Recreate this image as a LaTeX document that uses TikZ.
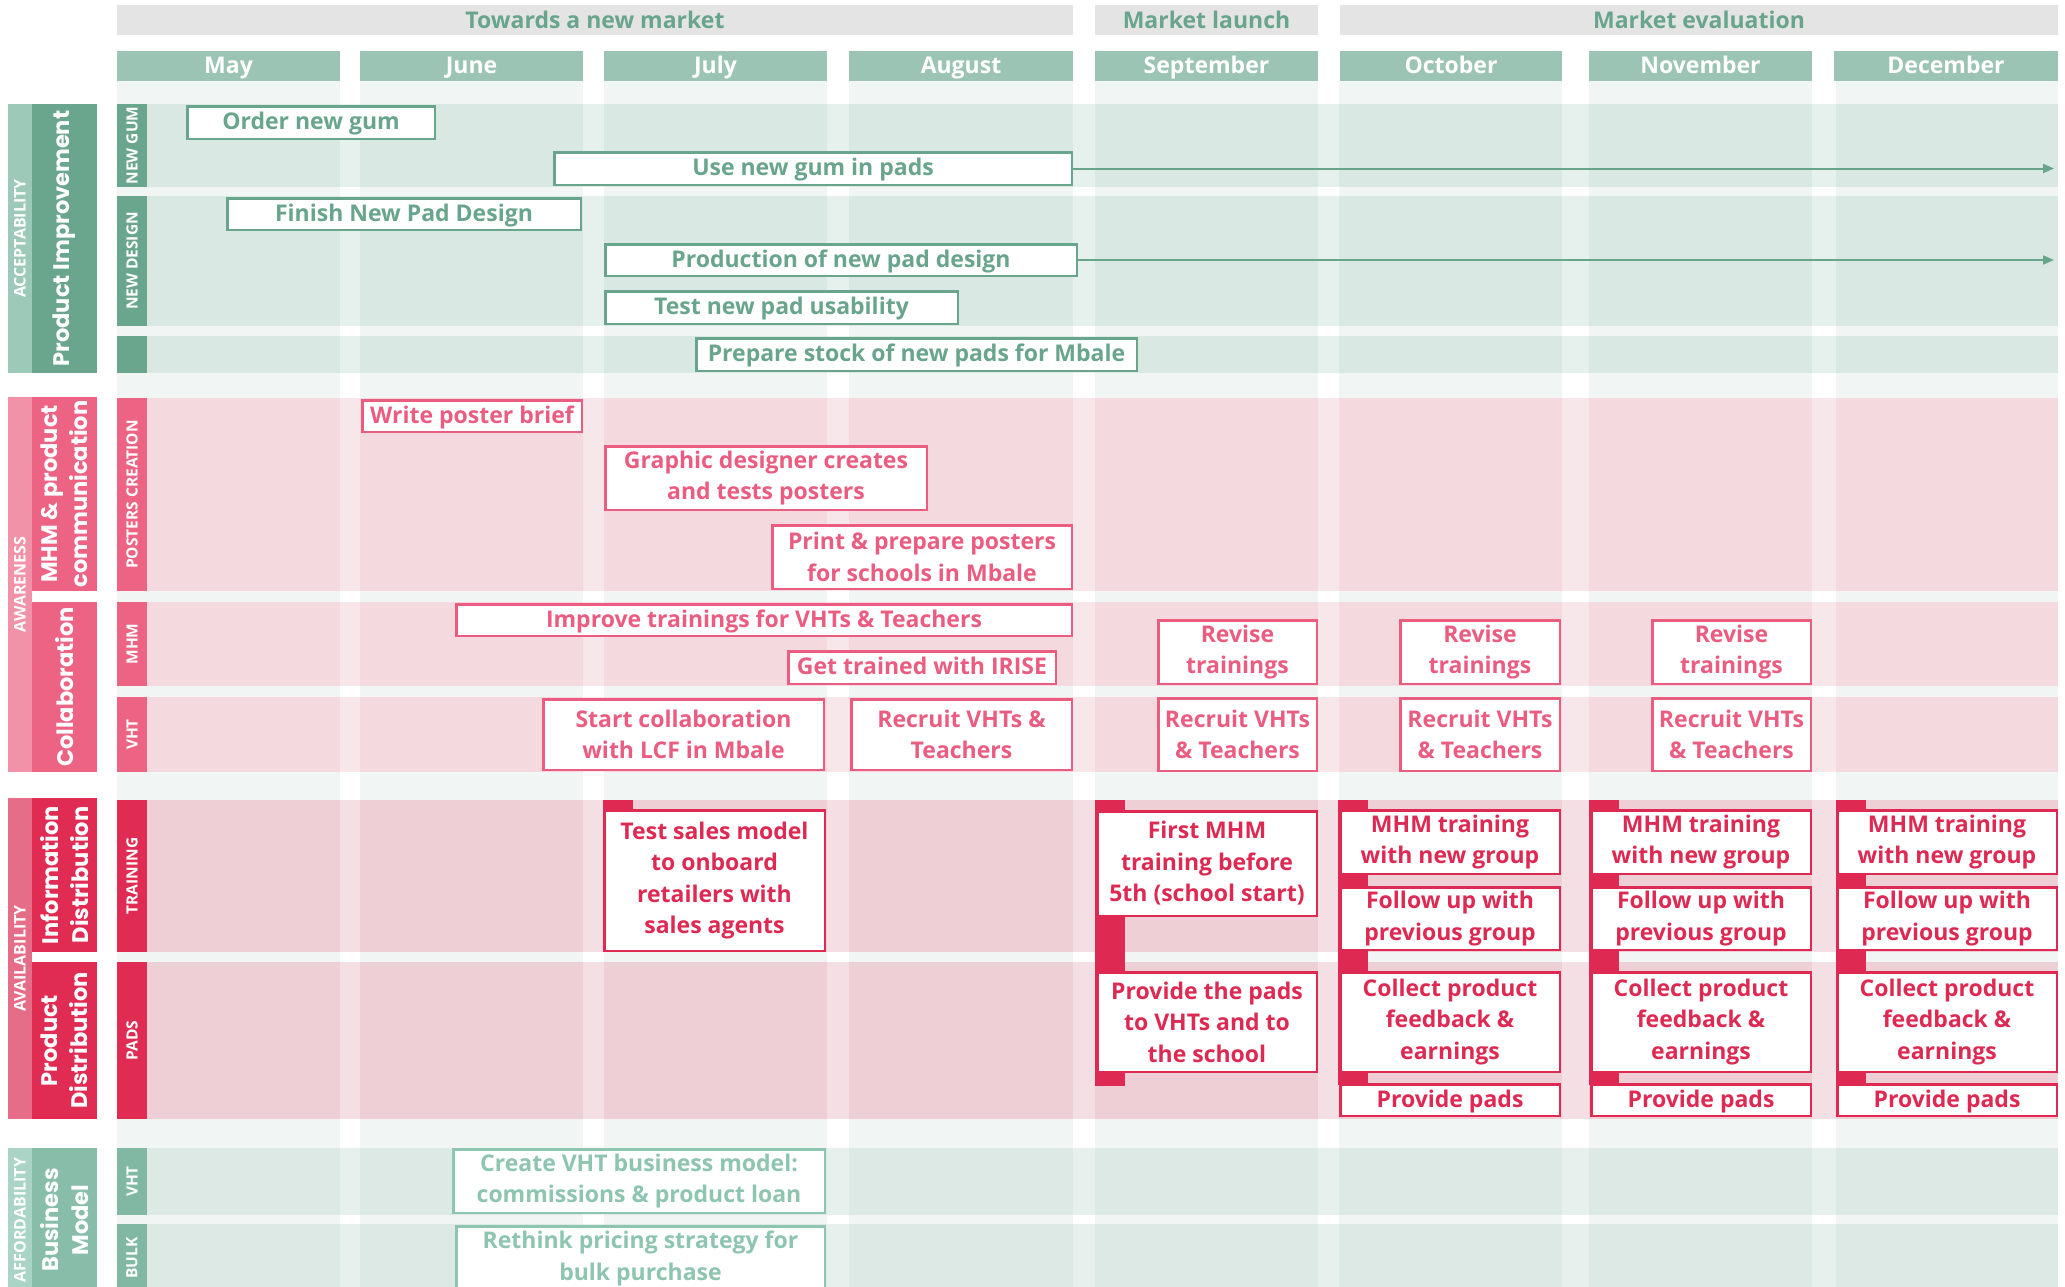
\documentclass[tikz,border=0pt]{standalone}
\usepackage{fontspec}
\setmainfont{Open Sans}
\newfontfamily\wideface{Poppins}
\usetikzlibrary{arrows.meta}

% palette
\definecolor{gtext}{HTML}{68A58C}
\definecolor{gdark}{HTML}{6AA68E}
\definecolor{glight}{HTML}{9DC9B9}
\definecolor{ghead}{HTML}{9CC4B5}
\definecolor{glane}{HTML}{D9E8E3}
\definecolor{phasebg}{HTML}{E4E4E4}
\definecolor{colbg}{HTML}{F1F6F4}
\definecolor{ptext}{HTML}{EA5D81}
\definecolor{pdark}{HTML}{EC6384}
\definecolor{plight}{HTML}{F192A8}
\definecolor{plane}{HTML}{F4D9DF}
\definecolor{rtext}{HTML}{DE2A53}
\definecolor{rdark}{HTML}{E02B53}
\definecolor{rlight}{HTML}{E66D88}
\definecolor{rlane}{HTML}{EFCFD6}
\definecolor{atext}{HTML}{8DC5B1}
\definecolor{adark}{HTML}{88BDAA}
\definecolor{asub}{HTML}{80B8A4}
\definecolor{alight}{HTML}{A9D4C6}
\definecolor{alane}{HTML}{DCE9E5}

\newcommand\boxfont{\fontsize{23}{31.5}\selectfont\bfseries}
\newcommand\headfont{\fontsize{23}{28}\selectfont\bfseries}
\newcommand\subfont{\fontsize{15.5}{18}\selectfont\bfseries}
\newcommand\outerfont{\fontsize{16}{18}\selectfont\bfseries}
\newcommand\bigfont{\wideface\fontsize{22.5}{30}\selectfont\bfseries}

% rotated filled side label: name, x1, y1, x2, y2, style, text
\newcommand\sidebar[7]{%
  \node[#6, rotate=90, minimum width={(#5-#3)*1pt}, minimum height={(#4-#2)*1pt}]
    (#1) at ({(#2+#4)/2},{(#3+#5)/2}) {#7};}
% task box by its outer corners: name, x1, y1, x2, y2, style, text
\newcommand\taskbox[7]{%
  \node[#6, minimum width={(#4-#2-2.5)*1pt}, minimum height={(#5-#3-2.5)*1pt}]
    (#1) at ({(#2+#4)/2},{(#3+#5)/2}) {#7};}
% header cell: name, x1, x2, y1, y2, style, text
\newcommand\headcell[7]{%
  \node[#6, minimum width={(#3-#2)*1pt}, minimum height={(#5-#4)*1pt}]
    (#1) at ({(#2+#3)/2},{(#4+#5)/2}) {#7};}

\begin{document}
\begin{tikzpicture}[x=1pt,y=-1pt,
  lbl/.style={inner sep=0pt, text=white, align=center},
  outerlbl/.style={lbl, font=\outerfont},
  biglbl/.style={lbl, font=\bigfont},
  sublbl/.style={lbl, font=\subfont},
  phasecell/.style={fill=phasebg, inner sep=0pt, text=gtext, font=\headfont,
    text height=17pt, text depth=0.5pt},
  monthcell/.style={fill=ghead, inner sep=0pt, text=white, font=\headfont,
    text height=16pt, text depth=1.5pt},
  task/.style={draw, line width=2.5pt, fill=white, inner sep=0pt, align=center,
    font=\boxfont},
  oneline/.style={text height=17pt, text depth=3pt},
  gtask/.style={task, draw=gtext, text=gtext},
  ptask/.style={task, draw=ptext, text=ptext},
  rtask/.style={task, draw=rtext, text=rtext},
  atask/.style={task, draw=atext, text=atext},
  flow/.style={draw=gtext, line width=2pt, -{Triangle[length=11pt,width=9pt]}},
]
\useasboundingbox (0,0) rectangle (2065,1286);
\clip (0,0) rectangle (2065,1286);
\fill[white] (0,0) rectangle (2065,1286);

% month columns
\foreach \a/\b in {117/340,360/583,604/827,849/1073,1095/1318,1339/1562,1589/1812,1836/2058}
  \fill[fill=colbg] (\a,81) rectangle (\b,1292);

% phase headers
\headcell{ph1}{117}{1073}{5}{35}{phasecell}{Towards a new market}
\headcell{ph2}{1095}{1318}{5}{35}{phasecell}{Market launch}
\headcell{ph3}{1340}{2058}{5}{35}{phasecell}{Market evaluation}

% month headers
\headcell{may}{117}{340}{51}{81}{monthcell}{May}
\headcell{jun}{360}{583}{51}{81}{monthcell}{June}
\headcell{jul}{604}{827}{51}{81}{monthcell}{July}
\headcell{aug}{849}{1073}{51}{81}{monthcell}{August}
\headcell{sep}{1095}{1318}{51}{81}{monthcell}{September}
\headcell{oct}{1340}{1562}{51}{81}{monthcell}{October}
\headcell{nov}{1589}{1812}{51}{81}{monthcell}{November}
\headcell{dec}{1834}{2058}{51}{81}{monthcell}{December}

% lanes
\fill[fill=glane] (147,104) rectangle (2058,187);
\fill[fill=glane] (147,196) rectangle (2058,326);
\fill[fill=glane] (147,336) rectangle (2058,373);
\fill[fill=plane] (147,398) rectangle (2058,591);
\fill[fill=plane] (147,602) rectangle (2058,686);
\fill[fill=plane] (147,697) rectangle (2058,772);
\fill[fill=rlane] (147,800) rectangle (2058,952);
\fill[fill=rlane] (147,962) rectangle (2058,1119);
\fill[fill=alane] (147,1148) rectangle (2058,1215);
\fill[fill=alane] (147,1224) rectangle (2058,1292);

% lighter gutters between months
\foreach \a/\b in {340/360,583/604,827/849,1073/1095,1318/1339,1562/1589,1812/1836}
  \fill[fill=white, opacity=0.35] (\a,81) rectangle (\b,1292);

% group labels
\sidebar{acc}{8}{104}{32}{373}{outerlbl, fill=glight}{ACCEPTABILITY}
\sidebar{prodimp}{32}{104}{97}{373}{biglbl, fill=gdark}{Product Improvement}
\sidebar{awa}{8}{397}{32}{772}{outerlbl, fill=plight}{AWARENESS}
\sidebar{mhmcom}{32}{397}{97}{591}{biglbl, fill=pdark}{MHM \& product\\communication}
\sidebar{collab}{32}{602}{97}{772}{biglbl, fill=pdark}{Collaboration}
\sidebar{ava}{8}{798}{32}{1119}{outerlbl, fill=rlight}{AVAILABILITY}
\sidebar{infodist}{32}{798}{97}{952}{biglbl, fill=rdark}{Information\\Distribution}
\sidebar{proddist}{32}{962}{97}{1119}{biglbl, fill=rdark}{Product\\Distribution}
\sidebar{aff}{8}{1148}{32}{1292}{outerlbl, fill=alight}{AFFORDABILITY}
\sidebar{busmod}{32}{1148}{97}{1292}{biglbl, fill=adark}{Business\\Model}

% lane labels
\sidebar{sgum}{117}{104}{147}{187}{sublbl, fill=gdark}{NEW GUM}
\sidebar{sdesign}{117}{196}{147}{326}{sublbl, fill=gdark}{NEW DESIGN}
\sidebar{sstock}{117}{336}{147}{373}{sublbl, fill=gdark}{}
\sidebar{sposters}{117}{398}{147}{591}{sublbl, fill=pdark}{POSTERS CREATION}
\sidebar{smhm}{117}{602}{147}{686}{sublbl, fill=pdark}{MHM}
\sidebar{svht}{117}{697}{147}{772}{sublbl, fill=pdark}{VHT}
\sidebar{straining}{117}{800}{147}{952}{sublbl, fill=rdark}{TRAINING}
\sidebar{spads}{117}{962}{147}{1119}{sublbl, fill=rdark}{PADS}
\sidebar{sbvht}{117}{1148}{147}{1215}{sublbl, fill=asub}{VHT}
\sidebar{sbulk}{117}{1224}{147}{1292}{sublbl, fill=asub}{BULK}

% milestone markers behind the training boxes
\fill[fill=rtext] (603,800) rectangle (633,900);
\fill[fill=rtext] (1095,800) rectangle (1125,1086);
\fill[fill=rtext] (1338,800) rectangle (1368,1085);
\fill[fill=rtext] (1589,800) rectangle (1619,1085);
\fill[fill=rtext] (1836,800) rectangle (1866,1085);

% product improvement
\taskbox{ordergum}{186}{105}{436}{140}{gtask, oneline}{Order new gum}
\taskbox{usegum}{553}{151}{1073}{186}{gtask, oneline}{Use new gum in pads}
\taskbox{finish}{226}{197}{582}{231}{gtask, oneline}{Finish New Pad Design}
\taskbox{production}{604}{243}{1078}{277}{gtask, oneline}{Production of new pad design}
\taskbox{testpad}{604}{290}{959}{325}{gtask, oneline}{Test new pad usability}
\taskbox{stock}{695}{337}{1138}{372}{gtask, oneline}{Prepare stock of new pads for Mbale}
\coordinate (gumend) at (2054,168.5);
\coordinate (prodend) at (2054,260);
\draw[flow] (usegum.east) -- (gumend);
\draw[flow] (production.east) -- (prodend);

% awareness
\taskbox{brief}{361}{399}{583}{433}{ptask, oneline}{Write poster brief}
\taskbox{graphic}{604}{445}{928}{511}{ptask}{Graphic designer creates\\and tests posters}
\taskbox{print}{771}{524}{1073}{590}{ptask}{Print \& prepare posters\\for schools in Mbale}
\taskbox{improve}{455}{603}{1073}{637}{ptask, oneline}{Improve trainings for VHTs \& Teachers}
\taskbox{irise}{787}{650}{1057}{685}{ptask, oneline}{Get trained with IRISE}
\taskbox{reviseA}{1157}{619}{1318}{685}{ptask}{Revise\\trainings}
\taskbox{reviseB}{1399}{619}{1561}{685}{ptask}{Revise\\trainings}
\taskbox{reviseC}{1651}{619}{1812}{685}{ptask}{Revise\\trainings}
\taskbox{lcf}{542}{698}{825}{771}{ptask}{Start collaboration\\with LCF in Mbale}
\taskbox{recruit}{850}{698}{1073}{771}{ptask}{Recruit VHTs \&\\Teachers}
\taskbox{recruitA}{1157}{697}{1318}{772}{ptask}{Recruit VHTs\\\& Teachers}
\taskbox{recruitB}{1399}{697}{1561}{772}{ptask}{Recruit VHTs\\\& Teachers}
\taskbox{recruitC}{1651}{697}{1812}{772}{ptask}{Recruit VHTs\\\& Teachers}

% availability
\taskbox{sales}{603}{809}{826}{952}{rtask}{Test sales model\\to onboard\\retailers with\\sales agents}
\taskbox{firstmhm}{1096}{810}{1318}{917}{rtask}{First MHM\\training before\\5th (school start)}
\taskbox{firstpads}{1096}{971}{1318}{1073}{rtask}{Provide the pads\\to VHTs and to\\the school}
\foreach \m/\a/\b in {A/1339/1561,B/1590/1812,C/1836/2058}{
  \taskbox{train\m}{\a}{809}{\b}{875}{rtask}{MHM training\\with new group}
  \taskbox{follow\m}{\a}{886}{\b}{951}{rtask}{Follow up with\\previous group}
  \taskbox{collect\m}{\a}{971}{\b}{1073}{rtask}{Collect product\\feedback \&\\earnings}
  \taskbox{pads\m}{\a}{1083}{\b}{1117}{rtask, oneline}{Provide pads}
}

% affordability
\taskbox{vhtmodel}{452}{1148}{826}{1214}{atask}{Create VHT business model:\\commissions \& product loan}
\taskbox{rethink}{455}{1225}{826}{1292}{atask}{Rethink pricing strategy for\\bulk purchase}
\end{tikzpicture}
\end{document}
